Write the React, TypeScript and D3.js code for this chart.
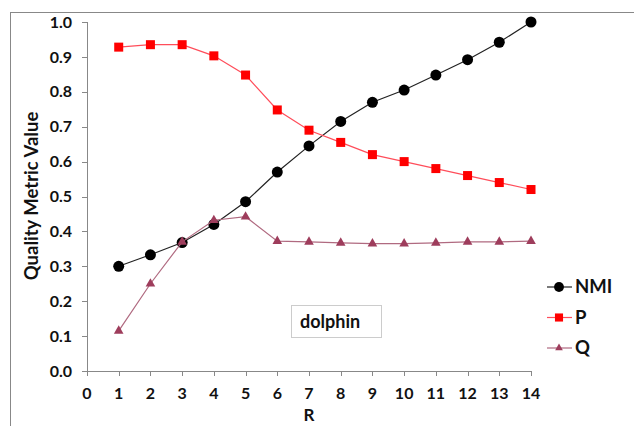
import React from "react";
import * as d3 from "d3";

const rValues = [1, 2, 3, 4, 5, 6, 7, 8, 9, 10, 11, 12, 13, 14];
const nmiValues = [0.3, 0.333, 0.368, 0.42, 0.485, 0.57, 0.645, 0.715, 0.77, 0.805, 0.848, 0.892, 0.942, 1.0];
const pValues = [0.928, 0.935, 0.935, 0.903, 0.848, 0.748, 0.69, 0.655, 0.62, 0.6, 0.58, 0.56, 0.54, 0.52];
const qValues = [0.115, 0.25, 0.37, 0.432, 0.442, 0.372, 0.37, 0.367, 0.365, 0.365, 0.367, 0.37, 0.37, 0.372];
const xTicks = d3.range(0, 15);
const yTicks = d3.range(0, 11).map((d) => d / 10);
const seriesNames = ["NMI", "P", "Q"];

const FONT = "Lato, 'Open Sans', sans-serif";

export default function App() {
  const W = 634, H = 426;
  const x = d3.scaleLinear().domain([0, 14]).range([87, 531]);
  const y = d3.scaleLinear().domain([0, 1]).range([371, 22]);

  const series = [
    { name: seriesNames[0], vals: nmiValues, line: "#222", fill: "#000", shape: "circle" },
    { name: seriesNames[1], vals: pValues, line: "#ff4d5a", fill: "#ff0000", shape: "square" },
    { name: seriesNames[2], vals: qValues, line: "#b06a80", fill: "#9e3d5c", shape: "triangle" },
  ];

  const lineGen = (vals: number[]) =>
    d3.line<number>().x((_, i) => x(rValues[i])).y((v) => y(v))(vals) || "";

  const marker = (shape: string, cx: number, cy: number, fill: string, key: any, scale = 1) => {
    if (shape === "circle") return <circle key={key} cx={cx} cy={cy} r={5.5 * scale} fill={fill} />;
    if (shape === "square") {
      const s = 9 * scale;
      return <rect key={key} x={cx - s / 2} y={cy - s / 2} width={s} height={s} fill={fill} />;
    }
    const sym = d3.symbol().type(d3.symbolTriangle).size(40 * scale * scale)();
    return <path key={key} d={sym || ""} transform={`translate(${cx},${cy})`} fill={fill} />;
  };

  return (
    <svg width={W} height={H} style={{ position: "absolute", left: 0, top: 0, background: "#fff" }}>
      <rect x={0} y={0} width={W} height={H} fill="#fff" />
      {/* outer frame */}
      <line x1={10.5} y1={12} x2={10.5} y2={H} stroke="#888" />
      <line x1={10} y1={12.5} x2={W} y2={12.5} stroke="#888" />

      {/* axes */}
      <line x1={87.5} y1={22} x2={87.5} y2={371} stroke="#888" />
      <line x1={87} y1={371.5} x2={531} y2={371.5} stroke="#888" />
      {yTicks.map((t) => (
        <g key={"y" + t}>
          <line x1={82} x2={87} y1={Math.round(y(t)) + 0.5} y2={Math.round(y(t)) + 0.5} stroke="#888" />
          <text x={72} y={y(t)} dy="0.35em" textAnchor="end" fontFamily={FONT} fontWeight="bold" fontSize={16} fill="#111">
            {t.toFixed(1)}
          </text>
        </g>
      ))}
      {xTicks.map((t) => (
        <g key={"x" + t}>
          <line x1={Math.round(x(t)) + 0.5} x2={Math.round(x(t)) + 0.5} y1={371} y2={376} stroke="#888" />
          <text x={x(t)} y={393} dy="0.35em" textAnchor="middle" fontFamily={FONT} fontWeight="bold" fontSize={16} fill="#111">
            {t}
          </text>
        </g>
      ))}
      <text x={x(7)} y={415} dy="0.35em" textAnchor="middle" fontFamily={FONT} fontWeight="bold" fontSize={17} fill="#111">
        R
      </text>
      <text
        transform={`translate(32,196) rotate(-90)`}
        dy="0.35em"
        textAnchor="middle"
        fontFamily={FONT}
        fontWeight="bold"
        fontSize={18.5}
        fill="#111"
      >
        Quality Metric Value
      </text>

      {/* series */}
      {series.map((s) => (
        <g key={s.name}>
          <path d={lineGen(s.vals)} fill="none" stroke={s.line} strokeWidth={1.2} />
          {s.vals.map((v, i) => marker(s.shape, x(rValues[i]), y(v), s.fill, i))}
        </g>
      ))}

      {/* dolphin label box */}
      <rect x={291.5} y={305.5} width={90} height={32} fill="#fff" stroke="#ccc" />
      <text x={300} y={322} dy="0.35em" fontFamily={FONT} fontWeight="bold" fontSize={18} fill="#111">
        dolphin
      </text>

      {/* legend */}
      {series.map((s, i) => {
        const ly = 287 + i * 30.5;
        return (
          <g key={"leg" + s.name}>
            <line x1={547} x2={572} y1={ly} y2={ly} stroke={s.line} strokeWidth={1.2} />
            {marker(s.shape, 559, ly, s.fill, "m", s.shape === "triangle" ? 0.8 : 0.9)}
            <text x={575} y={ly} dy="0.35em" fontFamily={FONT} fontWeight="bold" fontSize={18.5} fill="#111">
              {s.name}
            </text>
          </g>
        );
      })}
    </svg>
  );
}
